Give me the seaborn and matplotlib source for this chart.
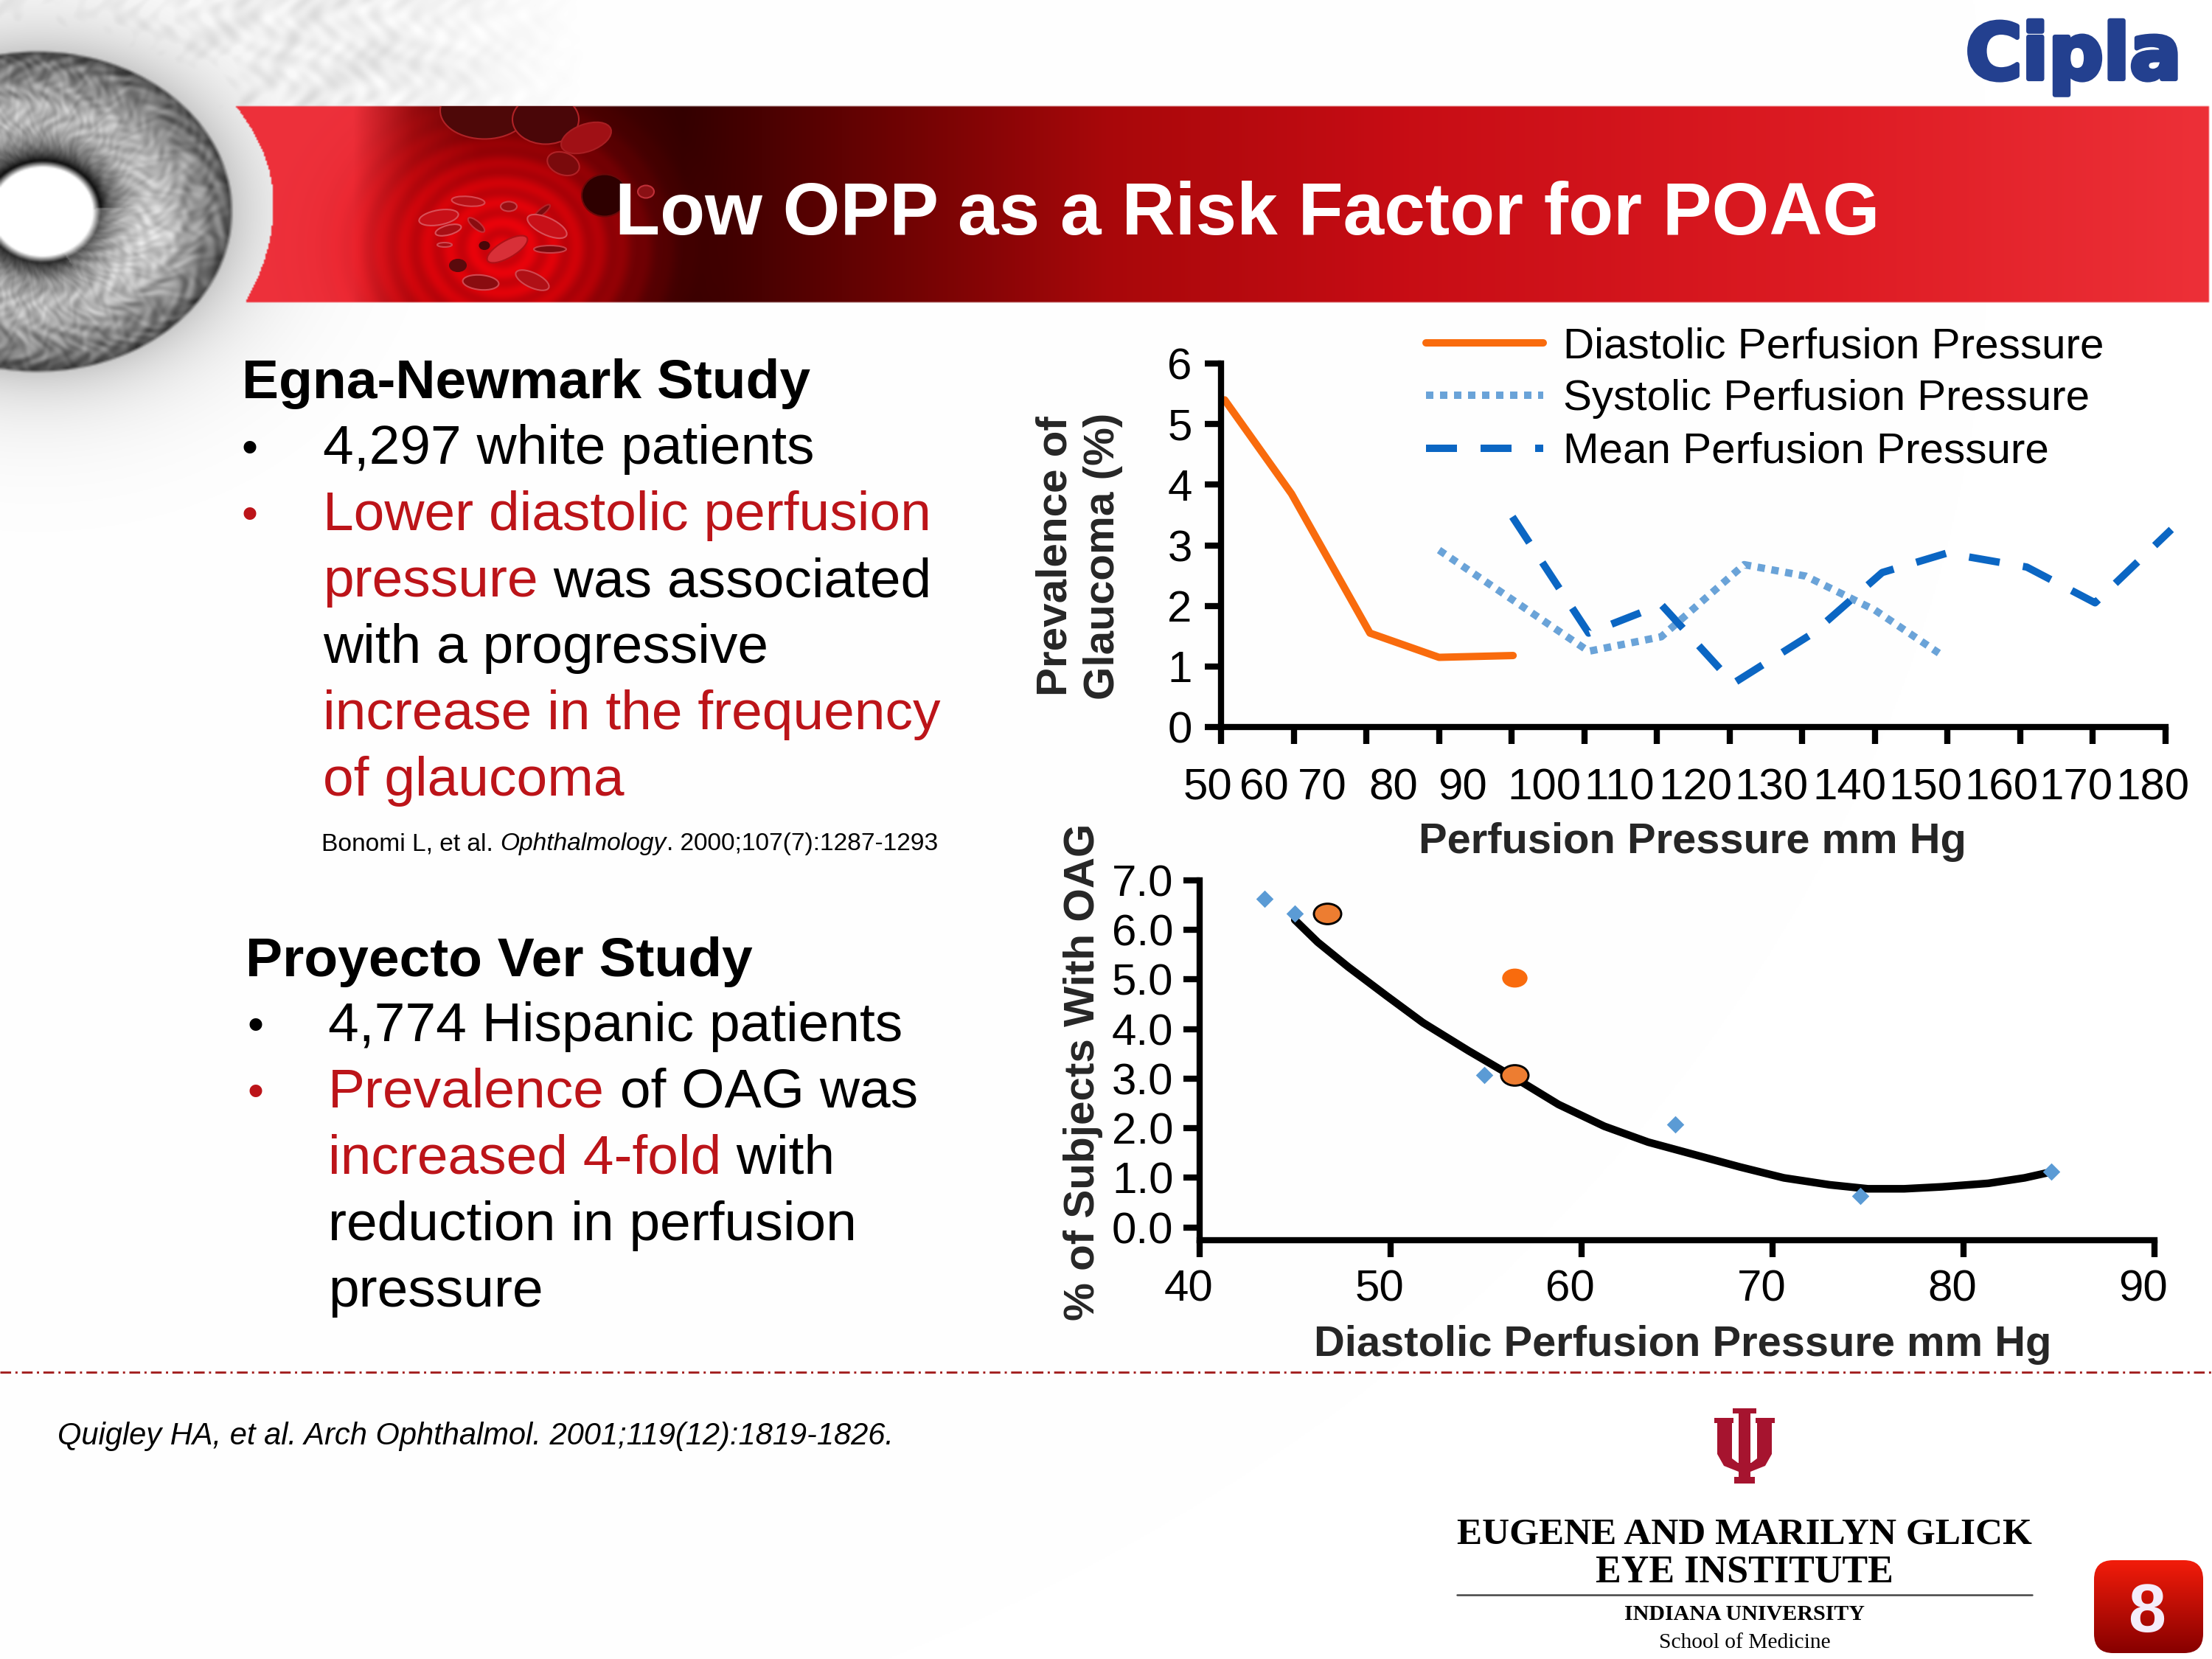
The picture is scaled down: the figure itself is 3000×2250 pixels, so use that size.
# -*- coding: utf-8 -*-
"""
Low OPP slide, two small charts plus the slide furniture around them
"""
import numpy as np
import pandas as pd
import matplotlib
matplotlib.use("Agg")
import matplotlib.pyplot as plt
import matplotlib.patheffects as pe
from matplotlib.patches import Ellipse, FancyBboxPatch, Polygon, Rectangle
from matplotlib.path import Path
from matplotlib.transforms import Affine2D, ScaledTranslation, blended_transform_factory
import seaborn as sns

W, H = 3000, 2250

# top chart
diastolic_x = [50.5, 59.7, 70.5, 80.0, 90.2]
diastolic_y = [5.40, 3.85, 1.55, 1.15, 1.18]
systolic_x = [80.0, 100.6, 110.6, 122.0, 130.5, 140.0, 148.8]
systolic_y = [2.92, 1.25, 1.49, 2.68, 2.49, 1.93, 1.22]
mean_x = [90.1, 100.6, 110.6, 120.5, 131.5, 141.0, 149.9, 160.9, 170.3, 180.8]
mean_y = [3.47, 1.55, 2.02, 0.72, 1.55, 2.55, 2.87, 2.64, 2.05, 3.26]
top_ticks = [50, 60, 70, 80, 90, 100, 110, 120, 130, 140, 150, 160, 170, 180]
# the slide has these labels drifting away from their ticks
top_label_pos = [48.2, 55.9, 63.9, 73.7, 83.2, 94.5, 104.8, 115.3, 125.8, 136.5, 147.0, 157.4, 167.7, 178.2]

# bottom chart
diamond_x = [43.4, 45.0, 54.9, 64.9, 74.6, 84.6]
diamond_y = [6.63, 6.32, 3.07, 2.07, 0.63, 1.12]
circle_x = [46.7, 56.5]
circle_y = [6.33, 3.07]
plain_circle_x = [56.5]
plain_circle_y = [5.04]
curve_x = [45.0, 46.2, 47.8, 49.8, 51.7, 54.1, 56.5, 58.8, 61.2, 63.5, 65.9, 68.3, 70.6, 73.0, 75.0, 76.9, 78.9, 81.3, 83.2, 84.6]
curve_y = [6.20, 5.75, 5.25, 4.67, 4.13, 3.56, 3.02, 2.48, 2.04, 1.72, 1.47, 1.22, 1.00, 0.86, 0.78, 0.78, 0.82, 0.89, 1.00, 1.12]
bottom_xticks = [40, 50, 60, 70, 80, 90]
bottom_yticks = [0, 1, 2, 3, 4, 5, 6, 7]

ORANGE = "#F96B0D"
LIGHT_BLUE = "#6AA3D8"
BLUE = "#0B66C3"
RED = "#BC1419"
SANS = ["Liberation Sans", "DejaVu Sans"]
SERIF = ["Liberation Serif", "DejaVu Serif"]

sns.set_theme(style="white")
plt.rcParams["font.family"] = SANS
plt.rcParams["text.color"] = "black"


def background_image():
    h, w = H // 2, W // 2
    y, x = np.mgrid[0:h, 0:w] * 2.0
    gray = np.ones((h, w))

    # mottled skin above the banner
    mott = (np.sin(x / 9 + 2 * np.sin(y / 23)) * np.sin(y / 7 + 2 * np.sin(x / 31))
            + 0.6 * np.sin((x + 2 * y) / 37 + 3 * np.sin(x / 61))
            + 0.4 * np.sin(x / 4.3 + 3 * np.sin(y / 11)))
    fade = np.clip((800 - x) / 300, 0, 1) * np.clip((340 - y) / 150, 0, 1)
    gray -= fade * (0.07 + 0.035 * mott)

    # iris and its soft halo
    d = np.sqrt(((x - 50) / 266) ** 2 + ((y - 286) / 219) ** 2)
    halo = np.exp(-np.clip(d - 1, 0, None) * 4.0) * 0.2
    gray = np.minimum(gray, 1 - halo)
    th = np.arctan2(y - 286, x - 50)
    fibre = (0.5 * np.sin(th * 29 + 5 * np.sin(d * 17)) + 0.3 * np.sin(th * 61 + 4 * np.sin(d * 29 + th * 5))
             + 0.35 * np.sin(th * 13 + 6 * np.sin(d * 11 + th * 3)) + 0.2 * np.sin(d * 53 + 5 * np.sin(th * 23)))
    band = np.exp(-((d - 0.58) / 0.24) ** 2)
    iris = 0.42 + 0.30 * band + 0.10 * fibre * (0.4 + d)
    # brighter sector to the lower right of the pupil
    iris += 0.10 * np.exp(-((th - 0.25) / 0.5) ** 2) * np.exp(-((d - 0.55) / 0.3) ** 2)
    iris *= 1 - 0.5 * np.clip((d - 0.9) / 0.1, 0, 1) ** 1.5
    dp = np.sqrt(((x - 57) / 77) ** 2 + ((y - 286) / 68) ** 2)
    ring = np.exp(-np.clip(dp - 1, 0, None) * 4.5)
    ring_strength = np.where(th < -0.05, 0.97, 0.75)
    ring_strength = np.where((th > -0.05) & (th < 1.0), 0.4, ring_strength)
    iris *= 1 - ring_strength * ring
    blend = np.clip((dp - 0.88) / 0.14, 0, 1)
    iris = 1.0 * (1 - blend) + iris * blend
    edge = np.clip((1.0 - d) / 0.02, 0, 1)
    gray = gray * (1 - edge) + np.clip(iris, 0, 1) * edge

    img = np.dstack([gray, gray, gray])

    # banner gradient
    stops_x = [320, 478, 560, 650, 925, 1200, 1500, 1900, 2500, 2995]
    stops_r = [0.93, 0.93, 0.58, 0.28, 0.20, 0.42, 0.66, 0.78, 0.87, 0.93]
    stops_g = [0.19, 0.19, 0.05, 0.00, 0.00, 0.01, 0.03, 0.05, 0.11, 0.19]
    stops_b = [0.23, 0.23, 0.06, 0.00, 0.00, 0.01, 0.04, 0.08, 0.14, 0.22]
    r = np.interp(x, stops_x, stops_r)
    g = np.interp(x, stops_x, stops_g)
    b = np.interp(x, stops_x, stops_b)
    rad = np.hypot(x - 680, (y - 335) * 1.15)
    glow = np.exp(-(rad / 185) ** 3)
    rings = 0.93 + 0.07 * np.sin(rad / 5)
    r = r * (1 - glow) + glow * 0.92 * rings
    g = g * (1 - glow) + glow * 0.01
    b = b * (1 - glow) + glow * 0.04
    left = 370 - np.where(y < 275, 51, 37) * ((y - 275) / 132) ** 2
    mask = (y >= 144) & (y <= 408) & (x >= left) & (x <= 2995)
    img[mask] = np.dstack([r, g, b])[mask]
    return img


fig = plt.figure(figsize=(W / 300, H / 300), dpi=300)

# whole slide axes in picture pixels
bg = fig.add_axes([0, 0, 1, 1], zorder=0)
bg.imshow(background_image(), extent=(0, W, H, 0), aspect="auto", interpolation="bilinear")

banner_clip = Rectangle((320, 144), 2675, 264, transform=bg.transData)
cells = [
    (657, 150, 120, 77, 0, "#4E0808", "#B02226"),
    (740, 162, 90, 67, 0, "#4A0608", "#B02226"),
    (795, 187, 71, 37, -20, "#A01015", "#A81E22"),
    (764, 222, 45, 30, 20, "#7A0A0C", "#B02226"),
    (820, 265, 62, 57, 0, "#2E0000", "#6A0808"),
    (876, 260, 22, 17, 0, "#8A1014", "#C03038"),
    (635, 273, 45, 13, 5, "#B81016", "#D84850"),
    (595, 295, 54, 20, -10, "#C81018", "#D85058"),
    (608, 312, 36, 13, -15, "#A80E14", "#D85058"),
    (646, 305, 28, 10, 40, "#8A0C10", "#C03038"),
    (690, 280, 22, 13, 0, "#9A0E12", "#C84048"),
    (735, 287, 28, 8, -40, "#7A0A0E", "#B02226"),
    (742, 307, 58, 23, 25, "#C81018", "#D85058"),
    (688, 338, 62, 23, -30, "#D83038", "#B01016"),
    (746, 338, 44, 10, 0, "#7A0A0E", "#C84048"),
    (657, 333, 13, 10, 0, "#4A0608", "#4A0608"),
    (621, 360, 22, 16, 0, "#5A0A0C", "#5A0A0C"),
    (722, 380, 49, 20, 25, "#B01016", "#D04850"),
    (652, 383, 49, 20, 5, "#8A0C10", "#D04850"),
    (603, 332, 20, 6, 0, "#A80E14", "#D04850"),
]
for cx, cy, cw, ch, ang, face, edge in cells:
    cell = Ellipse((cx, cy), cw, ch, angle=ang, facecolor=face, edgecolor=edge, lw=0.5, zorder=2)
    bg.add_patch(cell)
    cell.set_clip_path(banner_clip)

# IU trident
ix = 2366
bg.add_patch(Polygon([(ix - 8, 1917), (ix - 16, 1917), (ix - 16, 1910), (ix + 16, 1910), (ix + 16, 1917), (ix + 8, 1917),
                      (ix + 8, 2003), (ix + 14, 2003), (ix + 14, 2012), (ix - 14, 2012), (ix - 14, 2003), (ix - 8, 2003)],
                     color="#A6142F", lw=0, zorder=2))
bg.add_patch(Polygon([(ix - 41, 1923), (ix - 15, 1923), (ix - 15, 1930), (ix - 17, 1930), (ix - 17, 1978), (ix - 9, 1984), (ix + 9, 1984),
                      (ix + 17, 1978), (ix + 17, 1930), (ix + 15, 1930), (ix + 15, 1923), (ix + 41, 1923), (ix + 41, 1930), (ix + 37, 1930),
                      (ix + 37, 1972), (ix + 28, 1988), (ix + 8, 1996), (ix - 8, 1996), (ix - 28, 1988), (ix - 37, 1972), (ix - 37, 1930), (ix - 41, 1930)],
                     color="#A6142F", lw=0, zorder=2))

# page number box
box = FancyBboxPatch((2852, 2128), 124, 102, boxstyle="round,pad=12,rounding_size=26", lw=0, facecolor="none", zorder=2)
bg.add_patch(box)
ramp = np.linspace(0, 1, 64)[:, None, None]
box_rgb = np.array([0.95, 0.11, 0.04]) * (1 - ramp) + np.array([0.53, 0.0, 0.0]) * ramp
box_img = bg.imshow(box_rgb, extent=(2840, 2988, 2242, 2116), aspect="auto", zorder=2)
box_img.set_clip_path(box)

bg.set_xlim(0, W)
bg.set_ylim(H, 0)
bg.axis("off")

bg.plot([0, W], [1861, 1861], color="#A32020", lw=0.7, ls=(0, (5, 2, 1, 2)), zorder=2)
bg.plot([1976, 2756], [2163, 2163], color="#444444", lw=0.6, zorder=2)


def mixed_line(x, y, pieces, size=18):
    # pieces are (text, colour, style), laid end to end on one baseline
    renderer = fig.canvas.get_renderer()
    bar = bg.text(0, 0, "|", fontsize=size)
    bar_w = bar.get_window_extent(renderer).width
    bar.remove()
    prefix = ""
    for chunk, colour, style in pieces:
        t = bg.text(0, 0, prefix + "|", fontsize=size)
        used = t.get_window_extent(renderer).width - bar_w
        t.remove()
        bg.text(x + used, y, chunk, fontsize=size, color=colour, style=style, va="baseline", ha="left", zorder=3)
        prefix += chunk


bg.text(834, 318, "Low OPP as a Risk Factor for POAG", color="white", fontsize=24, fontweight="bold", va="baseline", zorder=3)

# Cipla wordmark
bg.text(2666, 107, "Cipla", color="#23408F", fontsize=25, fontweight="bold", family=["DejaVu Sans"], va="baseline", zorder=3,
        path_effects=[pe.withStroke(linewidth=1.5, foreground="#23408F")])

# left column
bg.text(328, 540, "Egna-Newmark Study", fontsize=18, fontweight="bold", va="baseline", zorder=3)
bg.text(328, 627, "•", fontsize=15, va="baseline", zorder=3)
bg.text(328, 717, "•", fontsize=15, color=RED, va="baseline", zorder=3)
mixed_line(438, 629, [("4,297 white patients", "black", "normal")])
mixed_line(438, 719, [("Lower diastolic perfusion", RED, "normal")])
mixed_line(438, 809, [("pressure", RED, "normal"), (" was associated", "black", "normal")])
mixed_line(438, 899, [("with a progressive", "black", "normal")])
mixed_line(438, 989, [("increase in the frequency", RED, "normal")])
mixed_line(438, 1079, [("of glaucoma", RED, "normal")])
mixed_line(436, 1153, [("Bonomi L, et al. ", "black", "normal"), ("Ophthalmology", "black", "italic"),
                       (". 2000;107(7):1287-1293", "black", "normal")], size=8.05)

bg.text(333, 1324, "Proyecto Ver Study", fontsize=18, fontweight="bold", va="baseline", zorder=3)
bg.text(336, 1410, "•", fontsize=15, va="baseline", zorder=3)
bg.text(336, 1500, "•", fontsize=15, color=RED, va="baseline", zorder=3)
mixed_line(445, 1412, [("4,774 Hispanic patients", "black", "normal")])
mixed_line(445, 1502, [("Prevalence", RED, "normal"), (" of OAG was", "black", "normal")])
mixed_line(445, 1592, [("increased 4-fold", RED, "normal"), (" with", "black", "normal")])
mixed_line(445, 1682, [("reduction in perfusion", "black", "normal")])
mixed_line(445, 1772, [("pressure", "black", "normal")])

bg.text(78, 1959, "Quigley HA, et al. Arch Ophthalmol. 2001;119(12):1819-1826.", fontsize=10.0, style="italic", va="baseline", zorder=3)

# logo lettering
bg.text(2366, 2093, "EUGENE AND MARILYN GLICK", family=SERIF, fontsize=12.3, fontweight="bold", ha="center", va="baseline", zorder=3)
bg.text(2366, 2146, "EYE INSTITUTE", family=SERIF, fontsize=12.5, fontweight="bold", ha="center", va="baseline", zorder=3)
bg.text(2366, 2197, "INDIANA UNIVERSITY", family=SERIF, fontsize=7.2, fontweight="bold", ha="center", va="baseline", zorder=3)
bg.text(2366, 2235, "School of Medicine", family=SERIF, fontsize=7.1, ha="center", va="baseline", zorder=3)
bg.text(2912, 2213, "8", color="#F4ECFA", fontsize=22, fontweight="bold", ha="center", va="baseline", zorder=3)

# top chart
ax = fig.add_axes([1656 / W, 1 - 986 / H, 1281 / W, 493 / H], zorder=2)
ax.patch.set_alpha(0)
top = pd.concat([
    pd.DataFrame({"x": diastolic_x, "y": diastolic_y, "series": "Diastolic Perfusion Pressure"}),
    pd.DataFrame({"x": systolic_x, "y": systolic_y, "series": "Systolic Perfusion Pressure"}),
    pd.DataFrame({"x": mean_x, "y": mean_y, "series": "Mean Perfusion Pressure"}),
])
line_styles = {
    "Diastolic Perfusion Pressure": (ORANGE, "-"),
    "Systolic Perfusion Pressure": (LIGHT_BLUE, (0, (1.0, 0.9))),
    "Mean Perfusion Pressure": (BLUE, (0, (4.2, 3.2))),
}
for name, part in top.groupby("series", sort=False):
    colour, style = line_styles[name]
    sns.lineplot(data=part, x="x", y="y", ax=ax, color=colour, linestyle=style, linewidth=2.4,
                 estimator=None, sort=False, label=name, clip_on=False, dash_capstyle="butt")
ax.set_xlim(50, 180)
ax.set_ylim(0, 6)
ax.set_xticks(top_ticks)
ax.set_xticklabels([])
ax.set_yticks(range(0, 7))
ax.set_xlabel("Perfusion Pressure mm Hg", fontsize=13.9, fontweight="bold")
ax.set_ylabel("Prevalence of\nGlaucoma (%)", fontsize=14, fontweight="bold", linespacing=1.25)
ax.xaxis.set_label_coords(0.499, -0.262)
ax.yaxis.set_label_coords(-0.104, 0.47)
ax.tick_params(axis="both", length=5.4, width=2, color="black", labelsize=14.4, labelcolor="black", pad=4, left=True, bottom=True)
label_trans = blended_transform_factory(ax.transData, ax.transAxes)
for pos, tick in zip(top_label_pos, top_ticks):
    ax.text(pos, -0.2, str(tick), transform=label_trans, fontsize=14.4, ha="center", va="baseline", clip_on=False)
ax.legend(loc="upper left", bbox_to_anchor=(1934 / W, 1 - 443 / H), bbox_transform=fig.transFigure, frameon=False,
          fontsize=14.0, handlelength=2.72, handletextpad=0.46, labelspacing=0.3, borderpad=0, borderaxespad=0)
sns.despine(ax=ax)
for side in ("left", "bottom"):
    ax.spines[side].set_linewidth(2)
    ax.spines[side].set_color("black")

# bottom chart, its round markers are squashed on the slide
squashed = Path.unit_circle().transformed(Affine2D().scale(1, 0.75))
ax2 = fig.add_axes([1626.5 / W, 1 - 1682 / H, 1295.5 / W, 488.3 / H], zorder=2)
ax2.patch.set_alpha(0)
sns.lineplot(x=curve_x, y=curve_y, ax=ax2, color="black", linewidth=2.5, estimator=None, sort=False)
sns.scatterplot(x=diamond_x, y=diamond_y, ax=ax2, marker="D", color="#5B9BD5", s=16, linewidth=0, zorder=3)
sns.scatterplot(x=circle_x, y=circle_y, ax=ax2, marker=squashed, color="#ED7D31", edgecolor="black", s=79, linewidth=0.7, zorder=4)
sns.scatterplot(x=plain_circle_x, y=plain_circle_y, ax=ax2, marker=squashed, color=ORANGE, s=68, linewidth=0, zorder=4)
ax2.set_xlim(40, 90)
ax2.set_ylim(-0.256, 7)
ax2.set_xticks(bottom_xticks)
ax2.set_yticks(bottom_yticks)
ax2.set_yticklabels(["%.1f" % v for v in bottom_yticks])
ax2.set_xlabel("Diastolic Perfusion Pressure mm Hg", fontsize=13.9, fontweight="bold")
ax2.set_ylabel("% of Subjects With OAG", fontsize=14, fontweight="bold")
ax2.xaxis.set_label_coords(0.506, -0.236)
ax2.yaxis.set_label_coords(-0.101, 0.467)
ax2.tick_params(axis="both", length=5.4, width=2, color="black", labelsize=14.4, labelcolor="black", pad=3, left=True, bottom=True)
ax2.tick_params(axis="x", pad=4)
nudge = ScaledTranslation(-15 / 300, 0, fig.dpi_scale_trans)
for lab in ax2.get_xticklabels():
    lab.set_transform(lab.get_transform() + nudge)
sns.despine(ax=ax2)
for side in ("left", "bottom"):
    ax2.spines[side].set_linewidth(2)
    ax2.spines[side].set_color("black")

fig.savefig("out.png", dpi=300)
